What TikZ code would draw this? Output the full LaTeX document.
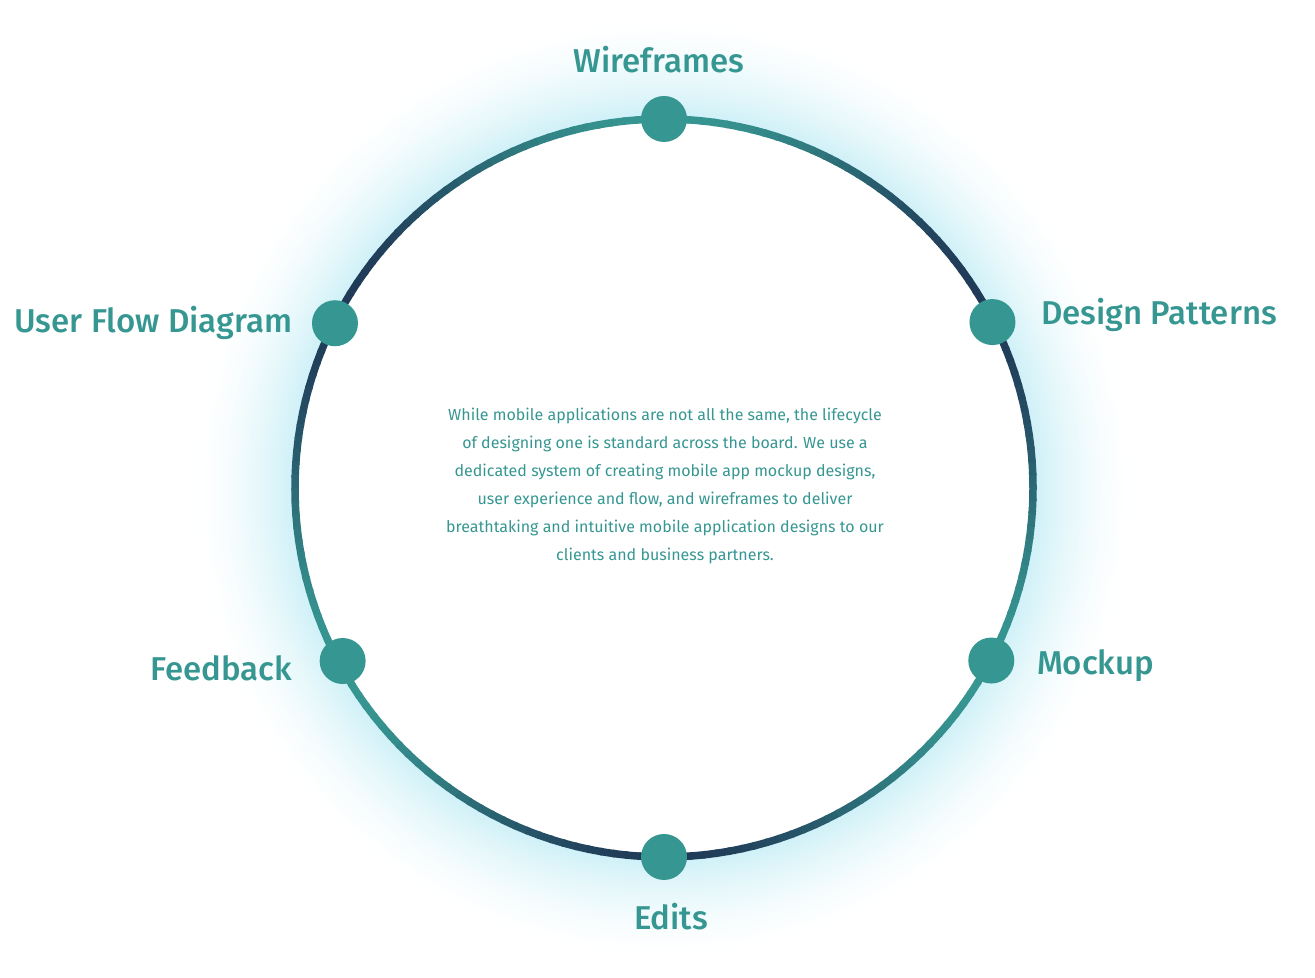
\documentclass[tikz,border=0pt]{standalone}
\usepackage{fontspec}
\setmainfont{Fira Sans}
\newfontfamily\stagefont{Fira Sans Medium}
\newfontfamily\blurbfont{Fira Sans}
\usetikzlibrary{positioning, calc}
\definecolor{ringteal}{HTML}{369792}
\definecolor{ringnavy}{HTML}{203A57}
\definecolor{glowcyan}{HTML}{CDF0F7}

\begin{document}
\begin{tikzpicture}[x=0.5pt, y=0.5pt,
    dot/.style={circle, fill=ringteal, minimum size=23pt, inner sep=0pt},
    stage/.style={text=ringteal, inner sep=0pt, font=\stagefont\fontsize{16.5}{20}\selectfont}]
    \useasboundingbox (0,0) rectangle (1315,978);
    \coordinate (c) at (664,490);

    % Glow
    \foreach \k in {50,49,...,0} {
        \pgfmathsetmacro\q{100*(1-\k/50)^1.6}
        \fill[glowcyan!\q!white] (c) circle[radius=370+2*\k];
    }
    \fill[white] (c) circle[radius=367];

    % Ring
    \foreach \a in {0,2,...,358} {
        \pgfmathsetmacro\p{50+50*cos(3*(\a+1-90))}
        \draw[line width=3.75pt, color=ringteal!\p!ringnavy] ($(c)+(\a:369)$) arc[start angle=\a, end angle=\a+2.4, radius=369];
    }

    % Nodes
    \node[dot] (wf) at ($(c)+(90:369)$) {};
    \node[dot] (dp) at ($(c)+(26.8:368)$) {};
    \node[dot] (mk) at ($(c)+(332.2:370)$) {};
    \node[dot] (ed) at ($(c)+(270:369)$) {};
    \node[dot] (fb) at ($(c)+(208.3:365)$) {};
    \node[dot] (uf) at ($(c)+(153.4:368)$) {};

    % Labels
    \node[stage, above=11pt of wf, xshift=-2.5pt] (wflabel) {Wireframes};
    \node[stage, anchor=base west] (dplabel) at ([xshift=12.5pt, yshift=-1pt]dp.east) {Design Patterns};
    \node[stage, anchor=base west] (mklabel) at ([xshift=11pt, yshift=-7pt]mk.east) {Mockup};
    \node[stage, below=11pt of ed, xshift=3.5pt] (edlabel) {Edits};
    \node[stage, anchor=base east] (fblabel) at ([xshift=-13.5pt, yshift=-9.5pt]fb.west) {Feedback};
    \node[stage, anchor=base east] (uflabel) at ([xshift=-9.5pt, yshift=-4.5pt]uf.west) {User Flow Diagram};

    \node[text=ringteal, align=center, font=\blurbfont\fontsize{8}{14}\selectfont] (blurb) at (665,492)
        {While mobile applications are not all the same, the lifecycle\\
         of designing one is standard across the board. We use a\\
         dedicated system of creating mobile app mockup designs,\\
         user experience and flow, and wireframes to deliver\\
         breathtaking and intuitive mobile application designs to our\\
         clients and business partners.};
\end{tikzpicture}
\end{document}
